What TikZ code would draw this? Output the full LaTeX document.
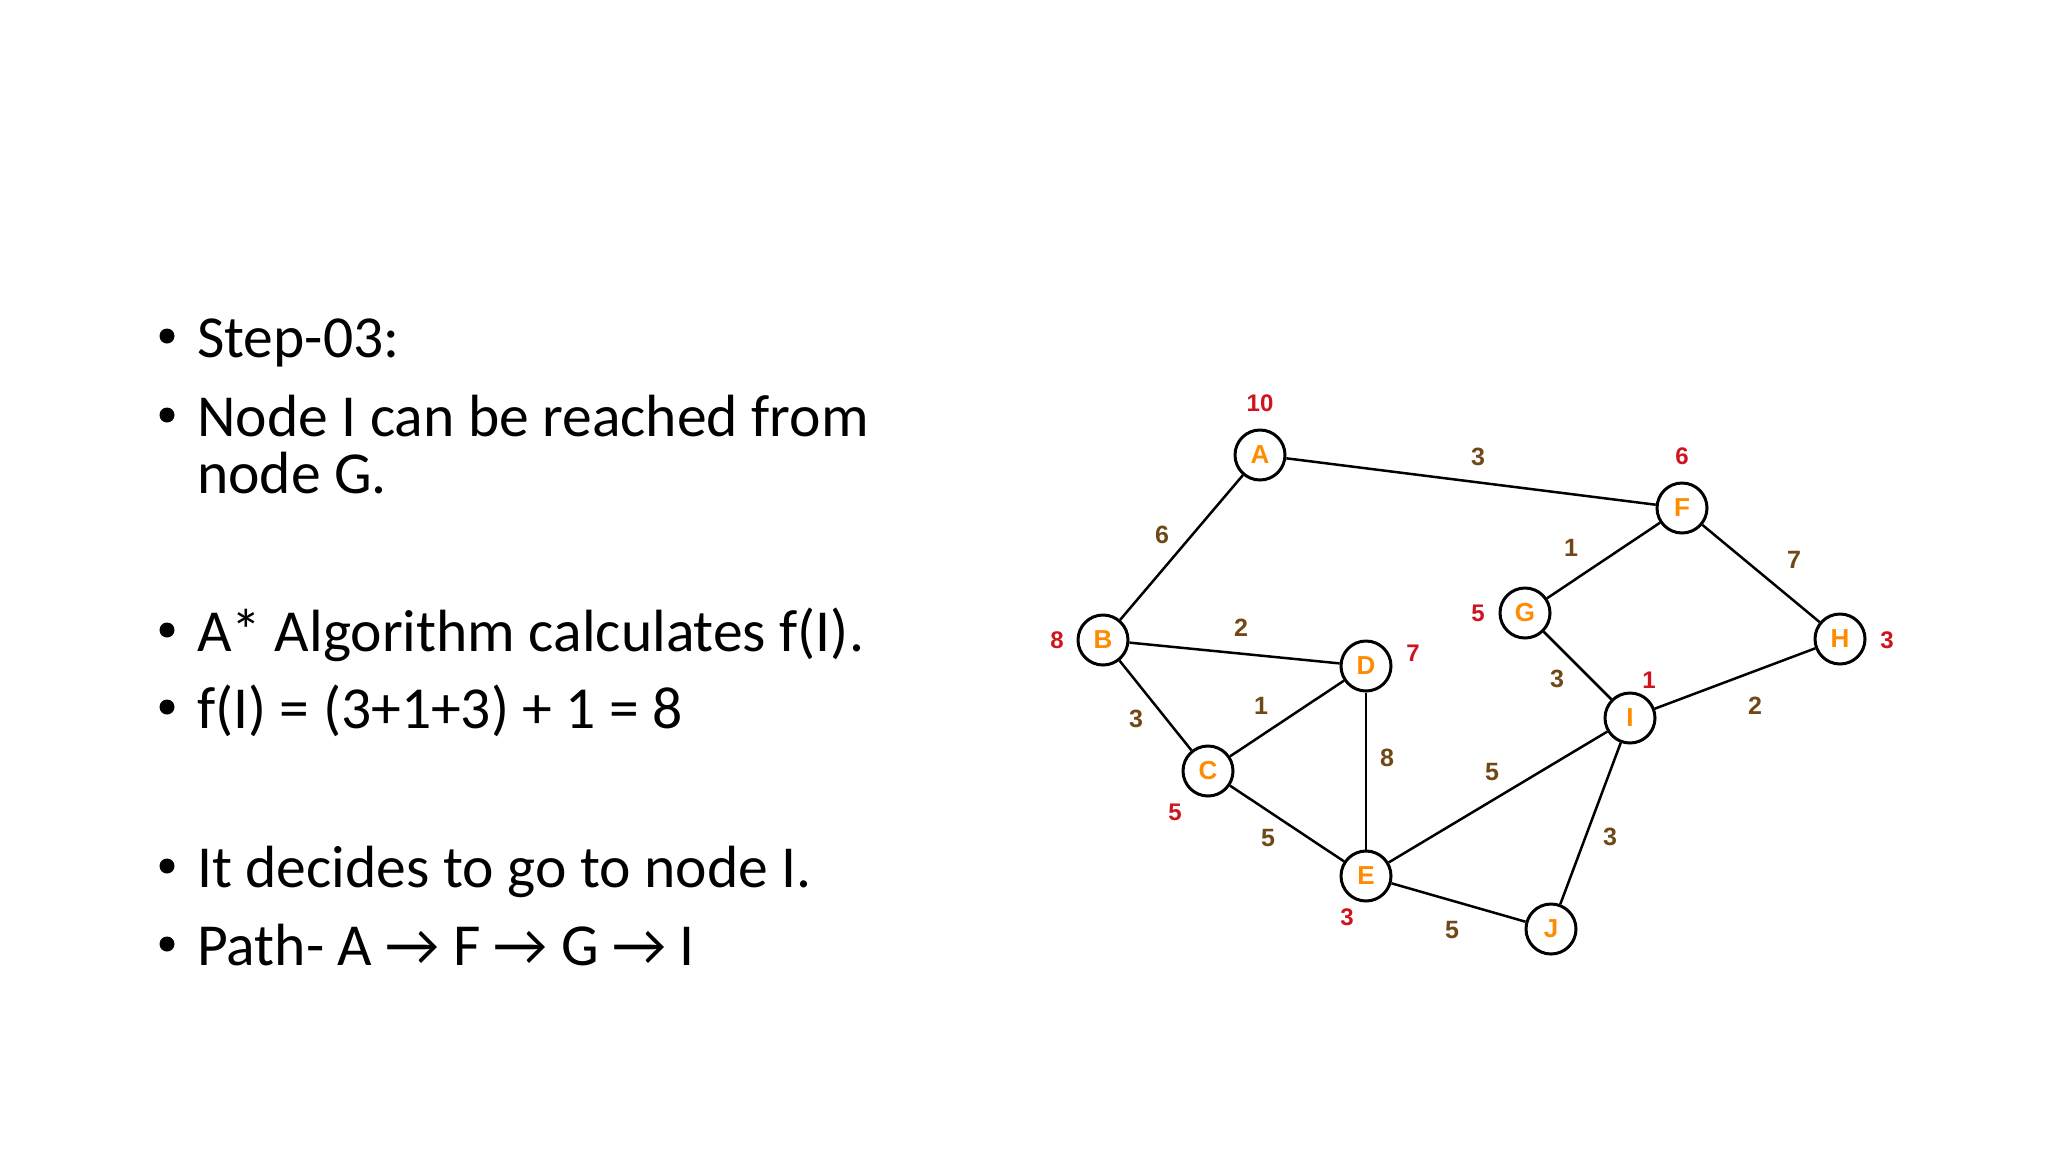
\documentclass[tikz,border=0pt]{standalone}
\usepackage{fontspec}
\setmainfont{Carlito}
\newfontfamily\graphfont{Liberation Sans}
\usetikzlibrary{positioning}
\definecolor{vorange}{RGB}{255,140,0}
\definecolor{hred}{RGB}{208,20,30}
\definecolor{wbrown}{RGB}{112,72,22}

\begin{document}
\begin{tikzpicture}[x=1pt, y=-1pt,
  point/.style={anchor=base west, inner sep=0, font=\fontsize{59.6}{66}\selectfont},
  bullet/.style={circle, fill=black, minimum size=15, inner sep=0},
  vertex/.style={circle, draw=black, line width=3, fill=white, minimum size=50, inner sep=0, text=vorange, font=\graphfont\bfseries\fontsize{26}{28}\selectfont},
  hval/.style={text=hred, inner sep=0, font=\graphfont\bfseries\fontsize{24}{26}\selectfont},
  wt/.style={text=wbrown, inner sep=0, font=\graphfont\bfseries\fontsize{25}{27}\selectfont},
  link/.style={line width=2.5, black},
]
  \fill[white] (0,0) rectangle (2048,1152);
  \useasboundingbox (0,0) rectangle (2048,1152);

  % bullet points
  \foreach \y/\txt/\id in {357/{Step-03:}/s1, 436/{Node I can be reached from}/s2,
      651/{A* Algorithm calculates f(I).}/s3, 728/{f(I) = (3+1+3) + 1 = 8}/s4,
      887/{It decides to go to node I.}/s5, 965/{Path- A → F → G → I}/s6} {
    \node[point] (\id) at (197,\y) {\txt};
    \node[bullet] (b\id) at (167,\y-21) {};
  }
  \node[point] (s2b) at (197,493) {node G.};

  % graph
  \node[vertex] (A) at (1260,455) {A};
  \node[vertex] (B) at (1103,640) {B};
  \node[vertex] (C) at (1208,771) {C};
  \node[vertex] (D) at (1366,666) {D};
  \node[vertex] (E) at (1366,876) {E};
  \node[vertex] (F) at (1682,508) {F};
  \node[vertex] (G) at (1525,613) {G};
  \node[vertex] (H) at (1840,639) {H};
  \node[vertex] (I) at (1630,718) {I};
  \node[vertex] (J) at (1551,929) {J};

  \foreach \u/\v in {A/F, A/B, B/D, B/C, C/D, D/E, C/E, E/J, E/I, I/J, I/H, G/I, F/G, F/H}
    \draw[link] (\u) -- (\v);

  % heuristic values
  \node[hval] (hA) at (1260,403) {10};
  \node[hval] (hB) at (1057,640) {8};
  \node[hval] (hC) at (1175,812) {5};
  \node[hval] (hD) at (1413,653) {7};
  \node[hval] (hE) at (1347,917) {3};
  \node[hval] (hF) at (1682,456) {6};
  \node[hval] (hG) at (1478,613) {5};
  \node[hval] (hH) at (1887,640) {3};
  \node[hval] (hI) at (1649,680) {1};

  % edge weights
  \node[wt] (wAF) at (1478,457) {3};
  \node[wt] (wAB) at (1162,535) {6};
  \node[wt] (wBD) at (1241,628) {2};
  \node[wt] (wBC) at (1136,719) {3};
  \node[wt] (wCD) at (1261,706) {1};
  \node[wt] (wDE) at (1387,758) {8};
  \node[wt] (wCE) at (1268,838) {5};
  \node[wt] (wEJ) at (1452,930) {5};
  \node[wt] (wEI) at (1492,772) {5};
  \node[wt] (wIJ) at (1610,837) {3};
  \node[wt] (wIH) at (1755,706) {2};
  \node[wt] (wGI) at (1557,679) {3};
  \node[wt] (wFG) at (1571,548) {1};
  \node[wt] (wFH) at (1794,560) {7};
\end{tikzpicture}
\end{document}
